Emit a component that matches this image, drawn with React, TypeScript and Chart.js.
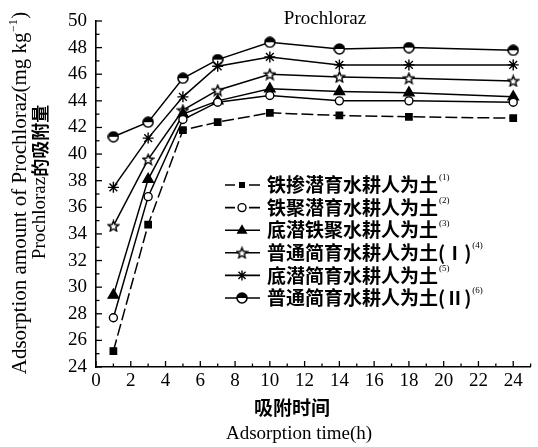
import React, { useEffect, useRef } from 'react';
import { Chart, registerables } from 'chart.js';
Chart.register(...registerables);

const times = [1, 3, 5, 7, 10, 14, 18, 24];
const soil1 = [25.2, 34.7, 41.8, 42.4, 43.1, 42.9, 42.8, 42.7];
const soil2 = [27.7, 36.8, 42.6, 43.9, 44.4, 44.0, 44.0, 43.9];
const soil3 = [29.4, 38.1, 43.0, 44.0, 44.9, 44.7, 44.6, 44.3];
const soil4 = [34.6, 39.6, 43.3, 44.8, 46.0, 45.8, 45.7, 45.5];
const soil5 = [37.5, 41.2, 44.3, 46.6, 47.3, 46.7, 46.7, 46.7];
const soil6 = [41.3, 42.4, 45.7, 47.1, 48.4, 47.9, 48.0, 47.8];

const legendLabels = [
  '铁掺潜育水耕人为土',
  '铁聚潜育水耕人为土',
  '底潜铁聚水耕人为土',
  '普通简育水耕人为土(Ⅰ)',
  '底潜简育水耕人为土',
  '普通简育水耕人为土(Ⅱ)',
];
const legendSups = ['(1)', '(2)', '(3)', '(4)', '(5)', '(6)'];

const chartTitle = 'Prochloraz';
const xTitleCn = '吸附时间';
const xTitleEn = 'Adsorption time(h)';
const yTitleEn = 'Adsorption amount of Prochloraz(mg kg';
const yTitleCnA = 'Prochloraz';
const yTitleCnB = '的吸附量';

const SERIF = '"Liberation Serif", "DejaVu Serif", serif';
const CJK = '"Noto Sans CJK SC", sans-serif';

function makeStar(size: number): HTMLCanvasElement {
  const c = document.createElement('canvas');
  c.width = size;
  c.height = size;
  const g = c.getContext('2d')!;
  const cx = size / 2, cy = size / 2 + 0.5;
  const R = size / 2 - 1, r = R * 0.45;
  g.beginPath();
  for (let i = 0; i < 10; i++) {
    const ang = -Math.PI / 2 + (i * Math.PI) / 5;
    const rad = i % 2 === 0 ? R : r;
    const px = cx + rad * Math.cos(ang), py = cy + rad * Math.sin(ang);
    if (i === 0) g.moveTo(px, py); else g.lineTo(px, py);
  }
  g.closePath();
  g.fillStyle = '#fff';
  g.fill();
  g.lineWidth = 1.4;
  g.strokeStyle = '#000';
  g.stroke();
  return c;
}

function makeHalfCircle(size: number): HTMLCanvasElement {
  const c = document.createElement('canvas');
  c.width = size;
  c.height = size;
  const g = c.getContext('2d')!;
  const cx = size / 2, cy = size / 2, R = size / 2 - 1;
  g.beginPath();
  g.arc(cx, cy, R, 0, Math.PI * 2);
  g.fillStyle = '#fff';
  g.fill();
  g.beginPath();
  g.arc(cx, cy, R, Math.PI, Math.PI * 2);
  g.closePath();
  g.fillStyle = '#000';
  g.fill();
  g.beginPath();
  g.arc(cx, cy, R, 0, Math.PI * 2);
  g.lineWidth = 1.6;
  g.strokeStyle = '#000';
  g.stroke();
  return c;
}

export default function App() {
  const ref = useRef<HTMLCanvasElement | null>(null);

  useEffect(() => {
    const canvas = ref.current;
    if (!canvas) return;
    const star = makeStar(13);
    const half = makeHalfCircle(12);

    const series = [soil1, soil2, soil3, soil4, soil5, soil6];
    const styles: any[] = [
      { pointStyle: 'rect', pointRadius: 4.5, bg: '#000', dash: [12, 4] },
      { pointStyle: 'circle', pointRadius: 4, bg: '#fff', dash: [] },
      { pointStyle: 'triangle', pointRadius: 6, bg: '#000', dash: [] },
      { pointStyle: star, pointRadius: 6, bg: '#fff', dash: [] },
      { pointStyle: 'star', pointRadius: 5.5, bg: '#000', dash: [] },
      { pointStyle: half, pointRadius: 6, bg: '#fff', dash: [] },
    ];

    const datasets = series.map((s, i) => ({
      label: legendLabels[i],
      data: s.map((v, j) => ({ x: times[j], y: v })),
      borderColor: '#000',
      borderWidth: 1.5,
      borderDash: styles[i].dash,
      pointStyle: styles[i].pointStyle,
      pointRadius: styles[i].pointRadius,
      pointBackgroundColor: styles[i].bg,
      pointBorderColor: '#000',
      pointBorderWidth: 1.4,
      fill: false,
      tension: 0,
    }));

    const drawMarker = (ctx: CanvasRenderingContext2D, i: number, x: number, y: number) => {
      ctx.save();
      ctx.strokeStyle = '#000';
      ctx.fillStyle = '#000';
      ctx.lineWidth = 1.4;
      if (i === 0) {
        ctx.fillRect(x - 3, y - 3, 6, 6);
      } else if (i === 1) {
        ctx.beginPath();
        ctx.arc(x, y, 4, 0, Math.PI * 2);
        ctx.fillStyle = '#fff';
        ctx.fill();
        ctx.stroke();
      } else if (i === 2) {
        ctx.beginPath();
        ctx.moveTo(x, y - 6);
        ctx.lineTo(x + 5.5, y + 3.5);
        ctx.lineTo(x - 5.5, y + 3.5);
        ctx.closePath();
        ctx.fill();
      } else if (i === 3) {
        ctx.drawImage(star, x - 6.5, y - 6.5);
      } else if (i === 4) {
        const r = 5;
        ctx.beginPath();
        for (let k = 0; k < 4; k++) {
          const a = (k * Math.PI) / 4;
          ctx.moveTo(x - r * Math.cos(a), y - r * Math.sin(a));
          ctx.lineTo(x + r * Math.cos(a), y + r * Math.sin(a));
        }
        ctx.stroke();
      } else {
        ctx.drawImage(half, x - 6, y - 6);
      }
      ctx.restore();
    };

    const decor = {
      id: 'decor',
      afterDraw(chart: any) {
        const { ctx, chartArea, scales } = chart;
        const xs = scales.x, ys = scales.y;
        ctx.save();
        ctx.strokeStyle = '#000';
        ctx.lineWidth = 1.3;
        for (let v = 0; v <= 25; v++) {
          const px = xs.getPixelForValue(v);
          const len = v % 2 === 0 ? 6 : 3.5;
          ctx.beginPath();
          ctx.moveTo(px, chartArea.bottom);
          ctx.lineTo(px, chartArea.bottom - len);
          ctx.stroke();
        }
        for (let v = 24; v <= 50; v++) {
          const py = ys.getPixelForValue(v);
          const len = v % 2 === 0 ? 6 : 3.5;
          ctx.beginPath();
          ctx.moveTo(chartArea.left, py);
          ctx.lineTo(chartArea.left + len, py);
          ctx.stroke();
        }
        ctx.fillStyle = '#000';
        ctx.font = `19px ${SERIF}`;
        ctx.textAlign = 'center';
        ctx.textBaseline = 'alphabetic';
        ctx.fillText(chartTitle, 325, 24);
        ctx.font = `bold 19px ${CJK}`;
        ctx.textBaseline = 'middle';
        ctx.fillText(xTitleCn, 292, 408);
        ctx.font = `19px ${SERIF}`;
        ctx.textBaseline = 'alphabetic';
        ctx.fillText(xTitleEn, 299, 439);

        ctx.save();
        ctx.translate(20, 193);
        ctx.rotate(-Math.PI / 2);
        ctx.textAlign = 'left';
        ctx.textBaseline = 'middle';
        const f1 = `21px ${SERIF}`;
        const fs = `12px ${SERIF}`;
        ctx.font = f1;
        const w1 = ctx.measureText(yTitleEn).width;
        const wp = ctx.measureText(')').width;
        ctx.font = fs;
        const ws = ctx.measureText('−1').width;
        const total = w1 + ws + wp + 1;
        let cx = -total / 2;
        ctx.font = f1;
        ctx.fillText(yTitleEn, cx, 0);
        cx += w1;
        ctx.font = fs;
        ctx.fillText('−1', cx + 0.5, -6);
        cx += ws + 1;
        ctx.font = f1;
        ctx.fillText(')', cx, 0);
        ctx.restore();

        ctx.save();
        ctx.translate(40, 182);
        ctx.rotate(-Math.PI / 2);
        ctx.textAlign = 'left';
        ctx.textBaseline = 'middle';
        const fa = `19px ${SERIF}`;
        const fb = `bold 18px ${CJK}`;
        ctx.font = fa;
        const wa = ctx.measureText(yTitleCnA).width;
        ctx.font = fb;
        const wb = ctx.measureText(yTitleCnB).width;
        let c2 = -(wa + wb) / 2;
        ctx.font = fa;
        ctx.fillText(yTitleCnA, c2, 0);
        c2 += wa;
        ctx.font = fb;
        ctx.fillText(yTitleCnB, c2, 0);
        ctx.restore();

        for (let i = 0; i < legendLabels.length; i++) {
          const ly = 185 + i * 22.6;
          ctx.save();
          ctx.lineWidth = 1.6;
          ctx.beginPath();
          if (i <= 1) {
            ctx.moveTo(225, ly);
            ctx.lineTo(235, ly);
            ctx.moveTo(249, ly);
            ctx.lineTo(260, ly);
          } else {
            ctx.moveTo(225, ly);
            ctx.lineTo(260, ly);
          }
          ctx.stroke();
          ctx.restore();
          drawMarker(ctx, i, 242, ly);
          ctx.font = `bold 19px ${CJK}`;
          ctx.textAlign = 'left';
          ctx.textBaseline = 'middle';
          ctx.fillText(legendLabels[i], 267, ly);
          const tw = ctx.measureText(legendLabels[i]).width;
          ctx.font = `9px ${SERIF}`;
          ctx.fillText(legendSups[i], 267 + tw + 1, ly - 7);
        }
        ctx.restore();
      },
    };

    const chart = new Chart(canvas, {
      type: 'line',
      data: { datasets },
      options: {
        responsive: false,
        animation: false,
        layout: { padding: { left: 0, top: 21, right: 1, bottom: 0 } },
        plugins: {
          legend: { display: false },
          title: { display: false },
          tooltip: { enabled: false },
        },
        scales: {
          x: {
            type: 'linear',
            min: 0,
            max: 25,
            grid: { display: false, drawTicks: false },
            border: { display: true, color: '#000', width: 1.6 },
            ticks: {
              stepSize: 2,
              includeBounds: false,
              autoSkip: false,
              maxRotation: 0,
              padding: 3,
              color: '#000',
              font: { family: SERIF, size: 19 },
            },
            afterFit: (s: any) => { s.height = 80; },
          },
          y: {
            type: 'linear',
            min: 24,
            max: 50,
            grid: { display: false, drawTicks: false },
            border: { display: true, color: '#000', width: 1.6 },
            ticks: {
              stepSize: 2,
              autoSkip: false,
              padding: 9,
              color: '#000',
              font: { family: SERIF, size: 19 },
            },
            afterFit: (s: any) => { s.width = 96; },
          },
        },
      },
      plugins: [decor],
    });
    return () => chart.destroy();
  }, []);

  return (
    <div style={{ position: 'fixed', left: 0, top: 0, width: 538, height: 447, background: '#fff' }}>
      <canvas ref={ref} width={538} height={447} style={{ width: 538, height: 447, display: 'block' }} />
    </div>
  );
}
